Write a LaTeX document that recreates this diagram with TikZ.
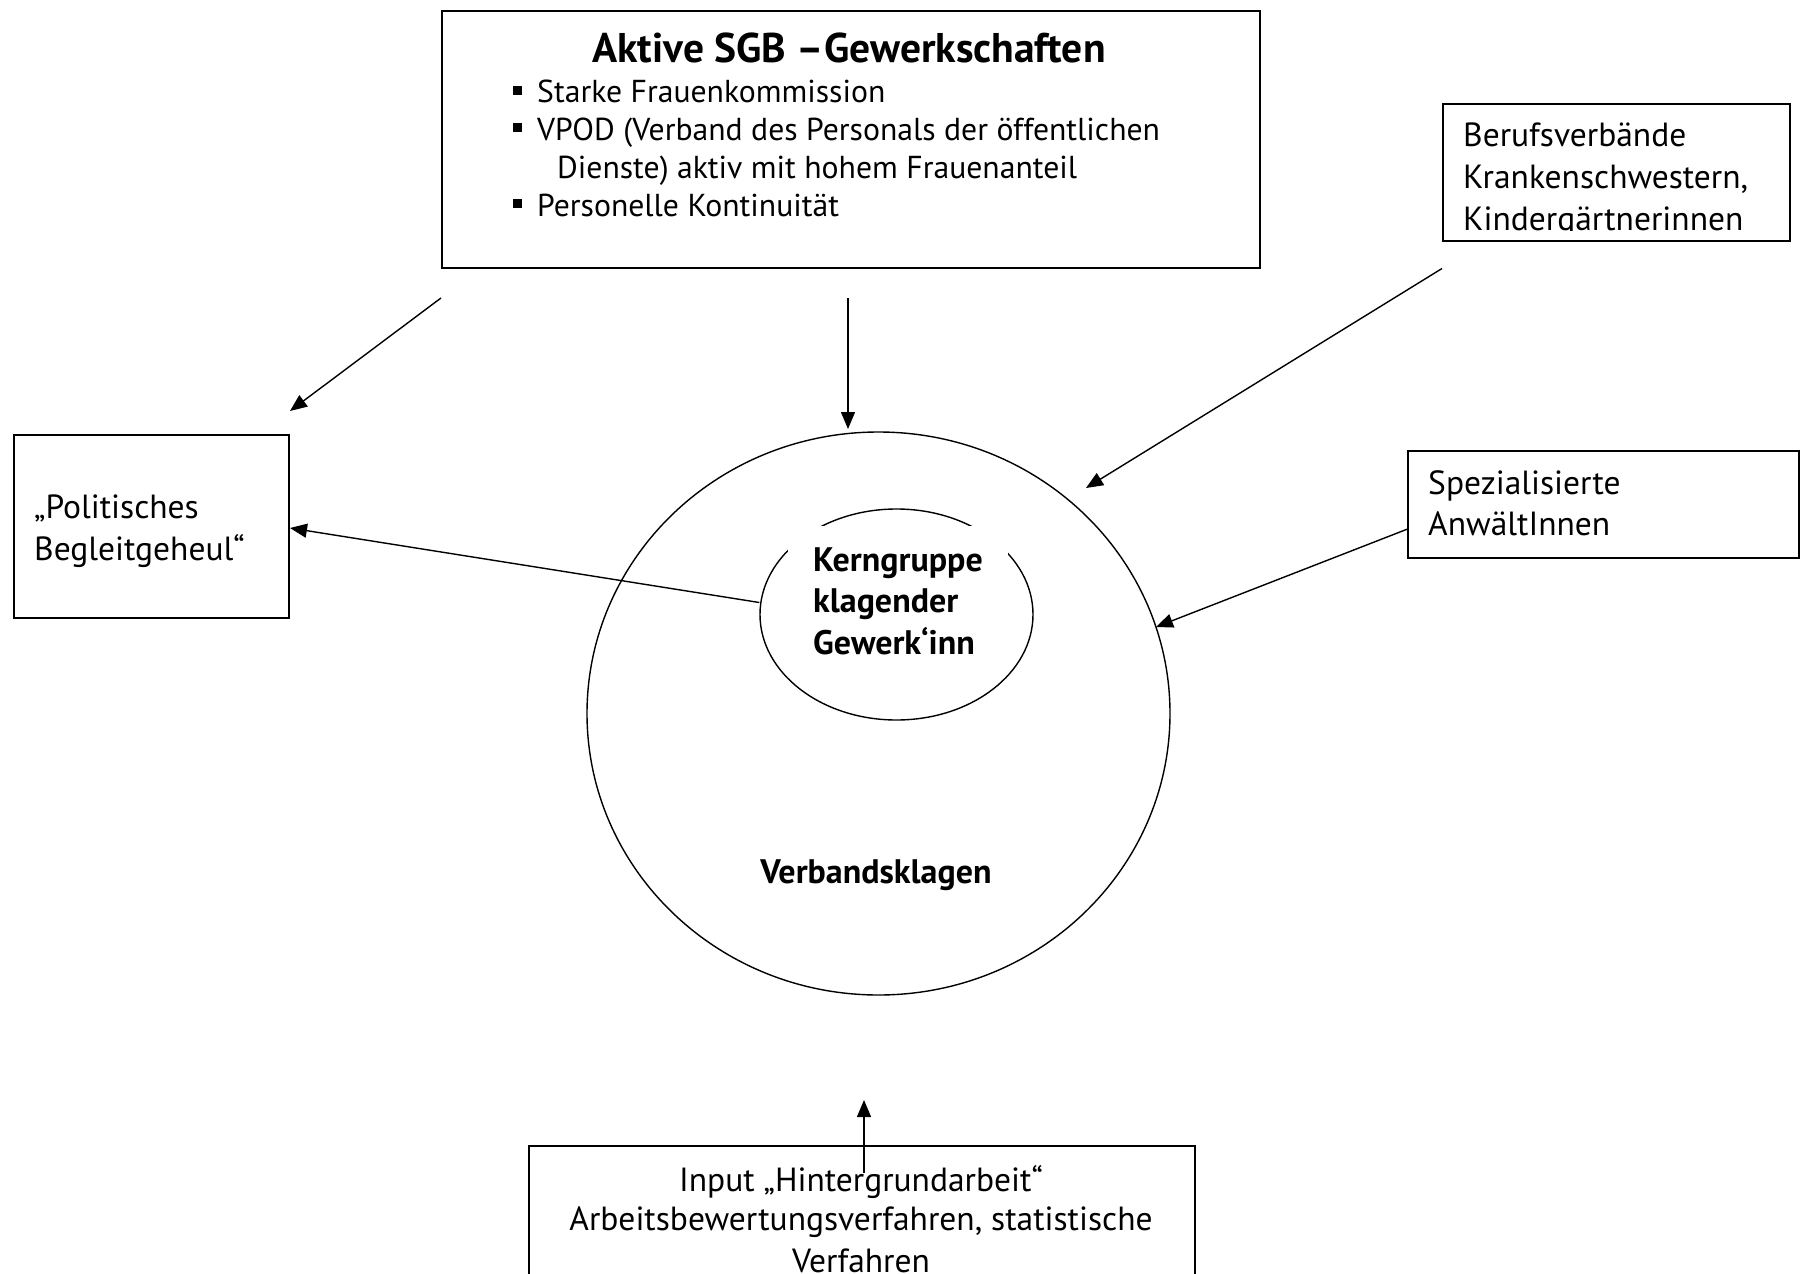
\documentclass[tikz,border=0pt]{standalone}
\usepackage{fontspec}
\setmainfont{PT Sans}
\usetikzlibrary{arrows.meta,shapes.geometric}
\begin{document}
\begin{tikzpicture}[x=1pt,y=-1pt,
  box/.style={draw, line width=1.5pt, inner sep=0pt},
  arr/.style={line width=1.4pt, -{Triangle[length=17pt,width=14pt]}},
  body/.style={font=\fontsize{33.5}{41}\selectfont, inner sep=0pt, anchor=base west},
  bodyc/.style={font=\fontsize{33.5}{41}\selectfont, inner sep=0pt, anchor=base},
  bodys/.style={font=\fontsize{31.7}{38}\selectfont, inner sep=0pt, anchor=base west},
  boldt/.style={font=\fontsize{34}{41}\selectfont\bfseries, inner sep=0pt, anchor=base west},
  bul/.style={fill=black, minimum size=9pt, inner sep=0pt},
]
\useasboundingbox (0,0) rectangle (1800,1274);
% top box
\node[box, minimum width=818pt, minimum height=257pt, anchor=north west] (top) at (441,10) {};
\node[font=\fontsize{41.5}{48}\selectfont\bfseries, inner sep=0pt, anchor=base] (title) at (849,62) {Aktive SGB –Gewerkschaften};
\node[bul] (b1) at (517,90) {};
\node[bul] (b2) at (517,127) {};
\node[bul] (b3) at (517,203) {};
\node[bodys] (t1) at (537,102) {Starke Frauenkommission};
\node[bodys] (t2) at (537,140) {VPOD (Verband des Personals der öffentlichen};
\node[bodys] (t3) at (557,178) {Dienste) aktiv mit hohem Frauenanteil};
\node[bodys] (t4) at (537,216) {Personelle Kontinuität};
% Berufsverbaende
\node[box, minimum width=347pt, minimum height=137pt, anchor=north west] (beruf) at (1442,103) {};
\begin{scope}
\clip (1442,103) rectangle (1789,230);
\node[body] (be1) at (1463,146) {Berufsverbände};
\node[body] (be2) at (1463,188) {Krankenschwestern,};
\node[body] (be3) at (1463,230) {Kindergärtnerinnen};
\end{scope}
% Politisches
\node[box, minimum width=275pt, minimum height=183pt, anchor=north west] (pol) at (13,434) {};
\node[body] (p1) at (34,518) {„Politisches};
\node[body] (p2) at (34,560) {Begleitgeheul“};
% Spezialisierte
\node[box, minimum width=391pt, minimum height=107pt, anchor=north west] (spez) at (1407,450) {};
\node[body] (s1) at (1428,494) {Spezialisierte};
\node[body] (s2) at (1428,535) {AnwältInnen};
% circles
\node[draw, line width=1.4pt, ellipse, minimum width=583pt, minimum height=563pt, inner sep=0pt] (big) at (878.5,713.5) {};
\node[draw, line width=1.4pt, ellipse, minimum width=273pt, minimum height=211pt, inner sep=0pt] (kern) at (896.5,614.5) {};
\node[fill=white, minimum width=220pt, minimum height=140pt, inner sep=0pt, anchor=north west] (kernbg) at (788,526) {};
\node[boldt] (k1) at (813,571) {Kerngruppe};
\node[boldt] (k2) at (813,612) {klagender};
\node[boldt] (k3) at (813,654) {Gewerk‘inn};
\node[font=\fontsize{34}{41}\selectfont\bfseries, inner sep=0pt, anchor=base] (verb) at (876,883) {Verbandsklagen};
% bottom box
\node[box, minimum width=666pt, minimum height=200pt, anchor=north west] (input) at (528,1145) {};
\node[bodyc] (i1) at (861,1191) {Input „Hintergrundarbeit“};
\node[bodyc] (i2) at (861,1230) {Arbeitsbewertungsverfahren, statistische};
\node[bodyc] (i3) at (861,1272) {Verfahren};
% arrows
\coordinate (a1s) at (441,298);
\coordinate (a1e) at (290,411);
\coordinate (a2s) at (848,298);
\coordinate (a2e) at (848,429);
\coordinate (a3e) at (1086,488);
\coordinate (a4e) at (1156,627);
\coordinate (a5e) at (290,528);
\coordinate (a6s) at (864,1173);
\coordinate (a6e) at (864,1100);
\draw[arr] (a1s) -- (a1e);
\draw[arr] (a2s) -- (a2e);
\draw[arr] (beruf.south west) ++(0,27) coordinate (a3s) (a3s) -- (a3e);
\draw[arr] (spez.west) ++(0,25) coordinate (a4s) (a4s) -- (a4e);
\draw[arr] (kern.west) ++(0,-12) coordinate (a5s) (a5s) -- (a5e);
\draw[arr] (a6s) -- (a6e);
\end{tikzpicture}
\end{document}
